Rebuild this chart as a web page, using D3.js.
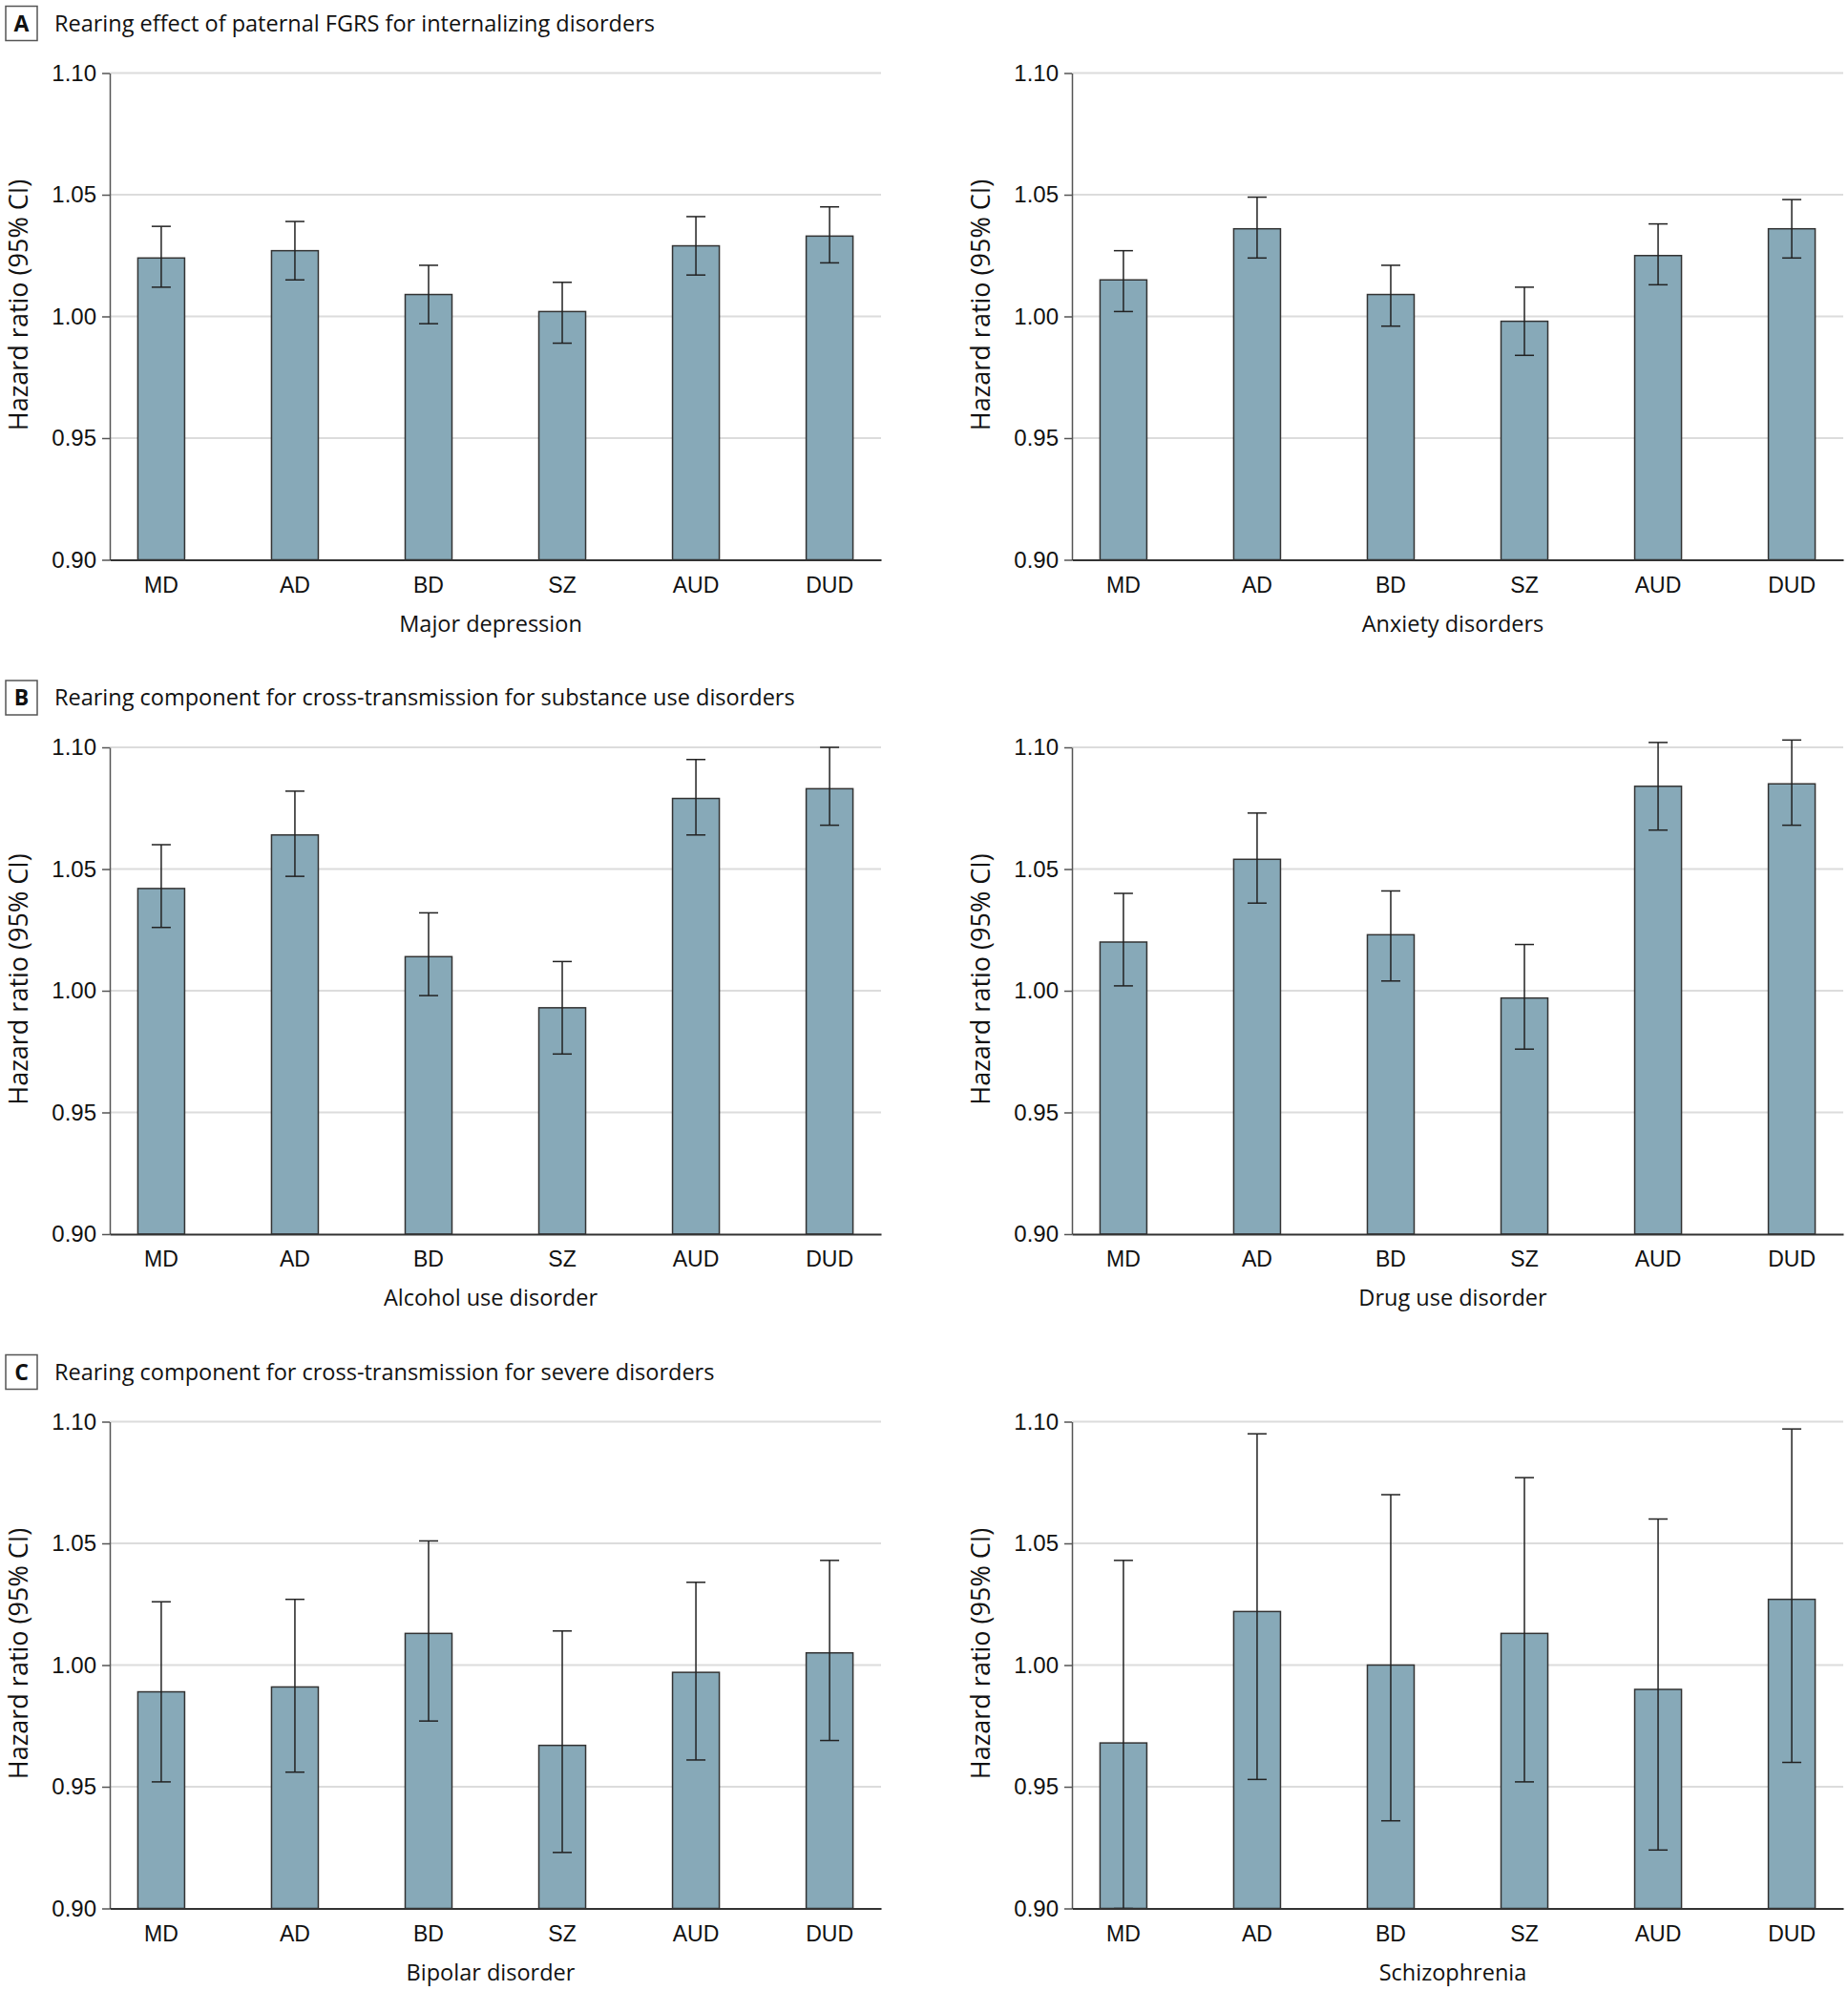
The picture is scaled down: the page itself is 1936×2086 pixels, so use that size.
<!DOCTYPE html>
<html lang="en">
<head>
<meta charset="UTF-8">
<title>Rearing effect hazard ratios</title>
<style>
  body { margin: 0; background: #fff; }
  svg { display: block; font-family: "Open Sans", "Noto Sans", sans-serif; }
  .grid line { stroke: #dcdcdc; stroke-width: 2px; }
  .bar { fill: #87a9b8; stroke: #333; stroke-width: 1.5px; }
  .err { stroke: #222; stroke-width: 1.5px; fill: none; }
  .yaxis path, .yaxis line { stroke: #555; stroke-width: 1.5px; }
  .xaxis path { stroke: #333; stroke-width: 2px; }
  .yaxis text { font-size: 24px; fill: #111; }
  .xaxis text { font-size: 23px; fill: #111; }
</style>
</head>
<body>
<script src="https://cdn.jsdelivr.net/npm/d3@7"></script>
<script>
// categories and ticks
const categories = ["MD", "AD", "BD", "SZ", "AUD", "DUD"];
const yTicks = [0.90, 0.95, 1.00, 1.05, 1.10];

const sectionLetters = ["A", "B", "C"];
const sectionTitles = [
  "Rearing effect of paternal FGRS for internalizing disorders",
  "Rearing component for cross-transmission for substance use disorders",
  "Rearing component for cross-transmission for severe disorders"
];
const panelTitles = [
  "Major depression", "Anxiety disorders",
  "Alcohol use disorder", "Drug use disorder",
  "Bipolar disorder", "Schizophrenia"
];

// hazard ratios with 95% CI
const mdHR   = [1.024, 1.027, 1.009, 1.002, 1.029, 1.033];
const mdLow  = [1.012, 1.015, 0.997, 0.989, 1.017, 1.022];
const mdHigh = [1.037, 1.039, 1.021, 1.014, 1.041, 1.045];

const anxHR   = [1.015, 1.036, 1.009, 0.998, 1.025, 1.036];
const anxLow  = [1.002, 1.024, 0.996, 0.984, 1.013, 1.024];
const anxHigh = [1.027, 1.049, 1.021, 1.012, 1.038, 1.048];

const audHR   = [1.042, 1.064, 1.014, 0.993, 1.079, 1.083];
const audLow  = [1.026, 1.047, 0.998, 0.974, 1.064, 1.068];
const audHigh = [1.060, 1.082, 1.032, 1.012, 1.095, 1.100];

const dudHR   = [1.020, 1.054, 1.023, 0.997, 1.084, 1.085];
const dudLow  = [1.002, 1.036, 1.004, 0.976, 1.066, 1.068];
const dudHigh = [1.040, 1.073, 1.041, 1.019, 1.102, 1.103];

const bdHR   = [0.989, 0.991, 1.013, 0.967, 0.997, 1.005];
const bdLow  = [0.952, 0.956, 0.977, 0.923, 0.961, 0.969];
const bdHigh = [1.026, 1.027, 1.051, 1.014, 1.034, 1.043];

const szHR   = [0.968, 1.022, 1.000, 1.013, 0.990, 1.027];
const szLow  = [0.900, 0.953, 0.936, 0.952, 0.924, 0.960];
const szHigh = [1.043, 1.095, 1.070, 1.077, 1.060, 1.097];

const panels = [
  [mdHR, mdLow, mdHigh], [anxHR, anxLow, anxHigh],
  [audHR, audLow, audHigh], [dudHR, dudLow, dudHigh],
  [bdHR, bdLow, bdHigh], [szHR, szLow, szHigh]
];

const W = 1936, H = 2086;
const svg = d3.select("body").append("svg").attr("width", W).attr("height", H);

const plotH = 510, rowTop = 76.5, rowStep = 706.5;
const colLeft = [115, 1123], plotW = 808;

panels.forEach((p, i) => {
  const row = Math.floor(i / 2), col = i % 2;
  const top = rowTop + row * rowStep;
  const left = colLeft[col];

  const x = d3.scaleBand().domain(categories).range([0, plotW])
    .paddingInner(0.65).paddingOuter(0.21);
  const y = d3.scaleLinear().domain([0.90, 1.10]).range([plotH, 0]);

  const g = svg.append("g").attr("transform", `translate(${left},${top})`);

  g.append("g").attr("class", "grid")
    .selectAll("line").data(yTicks.slice(1)).join("line")
    .attr("x1", 0).attr("x2", plotW)
    .attr("y1", d => y(d)).attr("y2", d => y(d));

  const rows = categories.map((c, k) => ({ c, hr: p[0][k], lo: p[1][k], hi: p[2][k] }));

  g.selectAll(".bar").data(rows).join("rect")
    .attr("class", "bar")
    .attr("x", d => x(d.c)).attr("width", x.bandwidth())
    .attr("y", d => y(d.hr)).attr("height", d => y(0.90) - y(d.hr));

  const cap = 10;
  const cx = d => x(d.c) + x.bandwidth() / 2;
  const eb = g.selectAll(".eb").data(rows).join("g").attr("class", "err");
  eb.append("line")
    .attr("x1", cx).attr("x2", cx)
    .attr("y1", d => y(d.lo)).attr("y2", d => y(d.hi));
  eb.append("line")
    .attr("x1", d => cx(d) - cap).attr("x2", d => cx(d) + cap)
    .attr("y1", d => y(d.hi)).attr("y2", d => y(d.hi));
  eb.append("line")
    .attr("x1", d => cx(d) - cap).attr("x2", d => cx(d) + cap)
    .attr("y1", d => y(d.lo)).attr("y2", d => y(d.lo));

  g.append("g").attr("class", "yaxis")
    .call(d3.axisLeft(y).tickValues(yTicks).tickFormat(d3.format(".2f"))
      .tickSize(8).tickSizeOuter(0).tickPadding(6));

  g.append("g").attr("class", "xaxis").attr("transform", `translate(0,${plotH})`)
    .call(d3.axisBottom(x).tickSize(0).tickSizeOuter(0).tickPadding(18));

  g.append("text")
    .attr("transform", `translate(${-95},${plotH / 2 - 12}) rotate(-90)`)
    .attr("text-anchor", "middle").attr("dy", "0.35em")
    .style("font-size", "27px").attr("fill", "#111")
    .text("Hazard ratio (95% CI)");

  g.append("text")
    .attr("x", plotW / 2 - 5).attr("y", plotH + 67).attr("dy", "0.35em")
    .attr("text-anchor", "middle")
    .style("font-size", "23.5px").attr("fill", "#111")
    .text(panelTitles[i]);

  if (col === 0) {
    const ty = top - 52;
    svg.append("rect")
      .attr("x", 6).attr("y", ty - 18).attr("width", 33).attr("height", 36)
      .attr("fill", "#fff").attr("stroke", "#555").attr("stroke-width", 1.5);
    svg.append("text")
      .attr("x", 22.5).attr("y", ty).attr("dy", "0.35em")
      .attr("text-anchor", "middle")
      .style("font-size", "23px").style("font-weight", "bold").attr("fill", "#111")
      .text(sectionLetters[row]);
    svg.append("text")
      .attr("x", 57).attr("y", ty).attr("dy", "0.35em")
      .style("font-size", "23.5px").attr("fill", "#111")
      .text(sectionTitles[row]);
  }
});
</script>
</body>
</html>
